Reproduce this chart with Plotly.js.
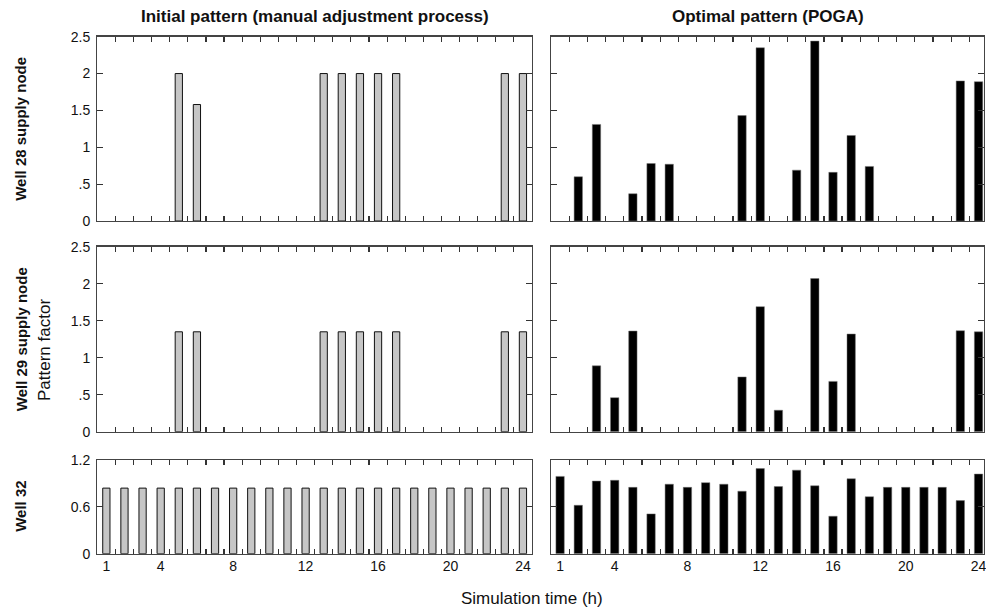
<!DOCTYPE html>
<html>
<head>
<meta charset="utf-8">
<script src="https://cdn.plot.ly/plotly-3.0.1.min.js"></script>
<style>html,body{margin:0;padding:0;background:#fff;}#chart{width:986px;height:610px;}</style>
</head>
<body>
<div id="chart"></div>
<script>
// Hours 1..24
const hours = Array.from({length: 24}, (_, i) => i + 1);
// tick marks sit between the hourly bars
const xTickMarks = [1.5,2.5,3.5,4.5,5.5,6.5,7.5,8.5,9.5,10.5,11.5,12.5,13.5,14.5,15.5,16.5,17.5,18.5,19.5,20.5,21.5,22.5,23.5];

// Well 28 supply node
const well28Initial = [0,0,0,0,2.0,1.58,0,0,0,0,0,0,2.0,2.0,2.0,2.0,2.0,0,0,0,0,0,2.0,2.0];
const well28Optimal = [0,0.6,1.31,0,0.37,0.78,0.77,0,0,0,1.43,2.35,0,0.69,2.44,0.66,1.16,0.74,0,0,0,0,1.9,1.89];

// Well 29 supply node
const well29Initial = [0,0,0,0,1.35,1.35,0,0,0,0,0,0,1.35,1.35,1.35,1.35,1.35,0,0,0,0,0,1.35,1.35];
const well29Optimal = [0,0,0.89,0.46,1.36,0,0,0,0,0,0.74,1.69,0.29,0,2.07,0.68,1.32,0,0,0,0,0,1.365,1.35];

// Well 32
const well32Initial = [0.84,0.84,0.84,0.84,0.84,0.84,0.84,0.84,0.84,0.84,0.84,0.84,0.84,0.84,0.84,0.84,0.84,0.84,0.84,0.84,0.84,0.84,0.84,0.84];
const well32Optimal = [0.99,0.62,0.93,0.94,0.85,0.51,0.89,0.85,0.91,0.89,0.8,1.09,0.86,1.07,0.87,0.48,0.96,0.73,0.85,0.85,0.85,0.85,0.68,1.02];

const xTickVals = [1,4,8,12,16,20,24];
const xTickText = ['1','4','8','12','16','20','24'];
const yTickVals = [0,0.5,1,1.5,2,2.5];
const yTickText = ['0','.5','1','1.5','2','2.5'];
const y3TickVals = [0,0.6,1.2];
const y3TickText = ['0','0.6','1.2'];

const colTitles = ['Initial pattern (manual adjustment process)', 'Optimal pattern (POGA)'];
const rowTitles = ['Well 28 supply node', 'Well 29 supply node', 'Well 32'];
const yTitle = 'Pattern factor';
const xTitle = 'Simulation time (h)';

const FONT = 'Liberation Sans, Arial, Helvetica, sans-serif';
const grayBar = {color: '#c6c6c6', line: {color: '#111', width: 1}};
const blackBar = {color: '#000', line: {color: '#777', width: 0.5}};

function bar(y, xa, ya, marker, w) {
  // zero-valued hours carry no bar
  return {type: 'bar', x: hours, y: y.map(v => v === 0 ? null : v), xaxis: xa, yaxis: ya, marker: marker, width: w, hoverinfo: 'x+y', showlegend: false};
}

const data = [
  bar(well28Initial, 'x', 'y', grayBar, 0.4),
  bar(well28Optimal, 'x2', 'y2', blackBar, 0.46),
  bar(well29Initial, 'x3', 'y3', grayBar, 0.4),
  bar(well29Optimal, 'x4', 'y4', blackBar, 0.46),
  bar(well32Initial, 'x5', 'y5', grayBar, 0.4),
  bar(well32Optimal, 'x6', 'y6', blackBar, 0.46),
  // carriers for the hour-label axes
  {type: 'scatter', mode: 'markers', x: hours, y: hours.map(() => null), xaxis: 'x7', yaxis: 'y5', showlegend: false, hoverinfo: 'skip'},
  {type: 'scatter', mode: 'markers', x: hours, y: hours.map(() => null), xaxis: 'x8', yaxis: 'y6', showlegend: false, hoverinfo: 'skip'}
];

const W = 986, H = 610;
const colDom = [[97.3 / W, 532 / W], [551 / W, 984 / W]];
const rowDom = [[1 - 221 / H, 1 - 36.7 / H], [1 - 431.7 / H, 1 - 246.7 / H], [1 - 553.7 / H, 1 - 460 / H]];
const xRanges = [[0.5, 24.5], [0.5, 24.3]];

function xAxis(col, row, anchor) {
  return {
    domain: colDom[col], anchor: anchor, range: xRanges[col], fixedrange: true,
    showline: true, linecolor: '#444', linewidth: 1.3, mirror: 'ticks',
    showgrid: false, zeroline: false,
    tickmode: 'array', tickvals: xTickMarks, ticktext: xTickMarks.map(() => ''),
    ticks: 'inside', ticklen: 5, tickwidth: 1.2, tickcolor: '#333',
    showticklabels: false
  };
}
function labelAxis(col, overlay, anchor) {
  return {
    domain: colDom[col], anchor: anchor, overlaying: overlay, range: xRanges[col], fixedrange: true,
    showline: false, showgrid: false, zeroline: false,
    tickmode: 'array', tickvals: xTickVals, ticktext: xTickText,
    ticks: '', showticklabels: true, ticklabeloverflow: 'allow', ticklabelstandoff: 2,
    tickfont: {family: FONT, size: 14, color: '#111'}
  };
}
function yAxis(col, row, anchor) {
  const isBottom = row === 2;
  return {
    domain: rowDom[row], anchor: anchor, range: isBottom ? [0, 1.2] : [0, 2.5], fixedrange: true,
    showline: true, linecolor: '#444', linewidth: 1.3, mirror: 'ticks',
    showgrid: false, zeroline: false,
    tickmode: 'array', tickvals: isBottom ? y3TickVals : yTickVals, ticktext: isBottom ? y3TickText : yTickText,
    ticks: 'inside', ticklen: 6, tickwidth: 1.2, tickcolor: '#333',
    showticklabels: col === 0, ticklabelstandoff: 3,
    tickfont: {family: FONT, size: 14, color: '#111'}
  };
}

const layout = {
  width: W, height: H,
  margin: {l: 0, r: 0, t: 0, b: 0},
  paper_bgcolor: '#fff', plot_bgcolor: '#fff',
  bargap: 0,
  font: {family: FONT, color: '#111'},
  xaxis: xAxis(0, 0, 'y'), yaxis: yAxis(0, 0, 'x'),
  xaxis2: xAxis(1, 0, 'y2'), yaxis2: yAxis(1, 0, 'x2'),
  xaxis3: xAxis(0, 1, 'y3'), yaxis3: yAxis(0, 1, 'x3'),
  xaxis4: xAxis(1, 1, 'y4'), yaxis4: yAxis(1, 1, 'x4'),
  xaxis5: xAxis(0, 2, 'y5'), yaxis5: yAxis(0, 2, 'x5'),
  xaxis6: xAxis(1, 2, 'y6'), yaxis6: yAxis(1, 2, 'x6'),
  xaxis7: labelAxis(0, 'x5', 'y5'),
  xaxis8: labelAxis(1, 'x6', 'y6'),
  annotations: [
    {text: '<b>' + colTitles[0] + '</b>', xref: 'paper', yref: 'paper', x: (colDom[0][0] + colDom[0][1]) / 2, y: 1 - 17 / H, xanchor: 'center', yanchor: 'middle', showarrow: false, font: {family: FONT, size: 17, color: '#111'}},
    {text: '<b>' + colTitles[1] + '</b>', xref: 'paper', yref: 'paper', x: (colDom[1][0] + colDom[1][1]) / 2, y: 1 - 17 / H, xanchor: 'center', yanchor: 'middle', showarrow: false, font: {family: FONT, size: 17, color: '#111'}},
    {text: '<b>' + rowTitles[0] + '</b>', xref: 'paper', yref: 'paper', x: 21 / W, y: (rowDom[0][0] + rowDom[0][1]) / 2, xanchor: 'center', yanchor: 'middle', textangle: -90, showarrow: false, font: {family: FONT, size: 15, color: '#111'}},
    {text: '<b>' + rowTitles[1] + '</b>', xref: 'paper', yref: 'paper', x: 21 / W, y: (rowDom[1][0] + rowDom[1][1]) / 2, xanchor: 'center', yanchor: 'middle', textangle: -90, showarrow: false, font: {family: FONT, size: 15, color: '#111'}},
    {text: '<b>' + rowTitles[2] + '</b>', xref: 'paper', yref: 'paper', x: 21 / W, y: (rowDom[2][0] + rowDom[2][1]) / 2, xanchor: 'center', yanchor: 'middle', textangle: -90, showarrow: false, font: {family: FONT, size: 15, color: '#111'}},
    {text: yTitle, xref: 'paper', yref: 'paper', x: 44 / W, y: 1 - 350 / H, xanchor: 'center', yanchor: 'middle', textangle: -90, showarrow: false, font: {family: FONT, size: 17, color: '#111'}},
    {text: xTitle, xref: 'paper', yref: 'paper', x: 532 / W, y: 1 - 598 / H, xanchor: 'center', yanchor: 'middle', showarrow: false, font: {family: FONT, size: 17, color: '#111'}}
  ]
};

Plotly.newPlot('chart', data, layout, {displayModeBar: false, staticPlot: true});
</script>
</body>
</html>
